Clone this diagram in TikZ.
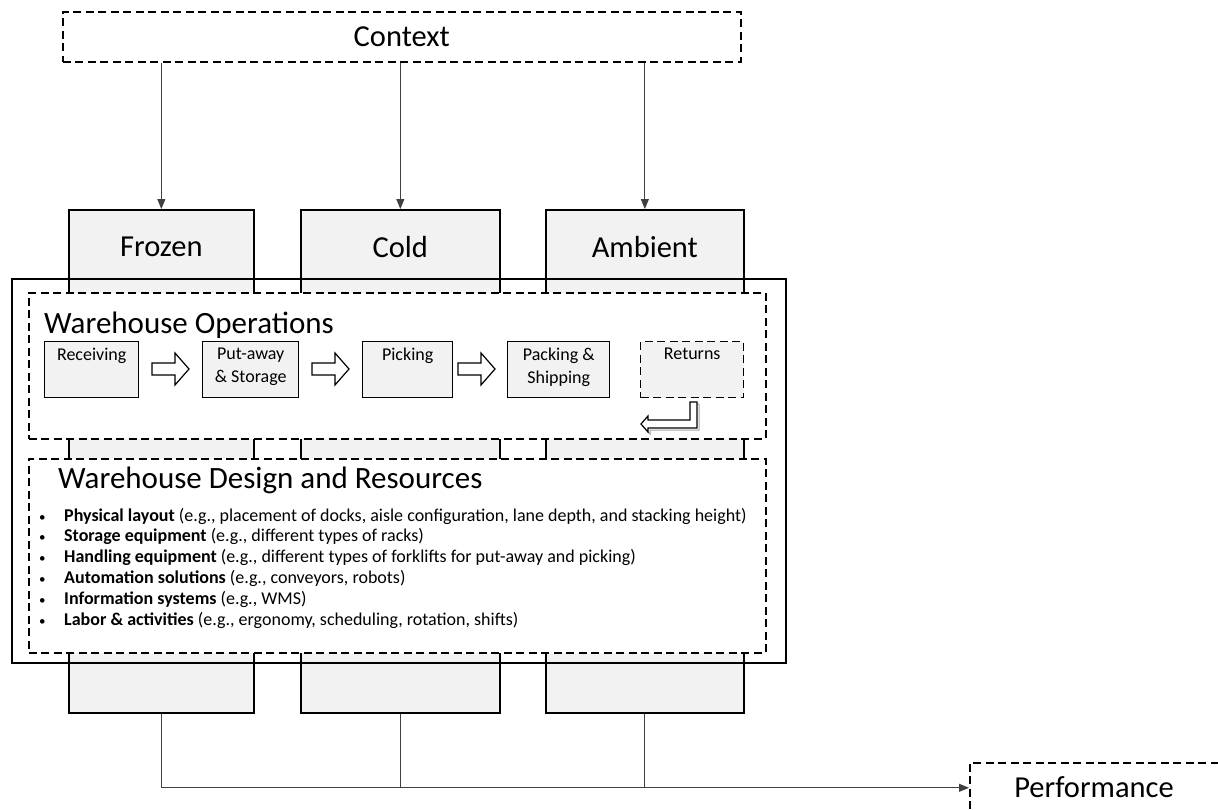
\documentclass[tikz,border=0pt]{standalone}
\usepackage{fontspec}
\setmainfont{Carlito}
\usetikzlibrary{arrows.meta,calc}
\definecolor{boxgray}{HTML}{F2F2F2}
\begin{document}
\begin{tikzpicture}[x=1pt,y=-1pt,
  col/.style={draw=black, fill=boxgray, line width=1.7pt, anchor=north west, inner sep=0pt, minimum height=503pt},
  framebox/.style={draw=black, line width=1.7pt, anchor=north west, inner sep=0pt},
  dashbox/.style={draw=black, fill=white, line width=1.6pt, dash pattern=on 8pt off 4.5pt, anchor=north west, inner sep=0pt},
  opbox/.style={draw=black, fill=boxgray, line width=1.4pt, anchor=north west, inner sep=0pt, minimum height=56pt},
  oplbl/.style={anchor=north, inner sep=0pt, align=center, font=\fontsize{18}{23}\selectfont},
  collbl/.style={inner sep=0pt, font=\fontsize{30.5}{36}\selectfont},
  bigtitle/.style={anchor=west, inner sep=0pt, font=\fontsize{31}{36}\selectfont},
  bl/.style={anchor=base west, inner sep=0pt, font=\fontsize{18}{20}\selectfont},
  blk/.style={draw=black, fill=white, line width=1.2pt, line join=miter},
  conn/.style={draw=black!75, line width=0.9pt},
  tip/.style={-{Triangle[length=10pt,width=8pt]}}
]
\useasboundingbox (0,0) rectangle (1218,809);

% columns
\node[col, minimum width=185pt] (frozen) at (68,209) {};
\node[col, minimum width=199pt] (cold) at (300,209) {};
\node[col, minimum width=198pt] (ambient) at (545,209) {};

% frame and inner dashed boxes
\node[framebox, minimum width=774pt, minimum height=384pt] (whframe) at (11,278) {};
\node[dashbox, minimum width=737pt, minimum height=146pt] (ops) at (28,292) {};
\node[dashbox, minimum width=737pt, minimum height=194pt] (design) at (28,458) {};

% column labels
\node[collbl] (frozenlbl) at ($(frozen.north)+(0,38)$) {Frozen};
\node[collbl] (coldlbl) at ($(cold.north)+(0,38)$) {Cold};
\node[collbl] (ambientlbl) at ($(ambient.north)+(0,38)$) {Ambient};

% context
\node[dashbox, minimum width=678pt, minimum height=50pt, font=\fontsize{30.5}{36}\selectfont] (context) at (62,11) {Context};

% performance
\node[dashbox, minimum width=262pt, minimum height=50pt] (perf) at (969,762) {};
\node[inner sep=0pt, font=\fontsize{30.5}{36}\selectfont] (perflbl) at (1094,787) {Performance};

% top arrows
\draw[conn,tip] (context.south -| frozen.north) -- (frozen.north);
\draw[conn,tip] (context.south -| cold.north) -- (cold.north);
\draw[conn,tip] (context.south -| ambient.north) -- (ambient.north);

% bottom connectors
\draw[conn,tip] (frozen.south) |- (perf.west);
\draw[conn] (cold.south) -- (cold.south |- perf.west);
\draw[conn] (ambient.south) -- (ambient.south |- perf.west);

% operations
\node[bigtitle] (opstitle) at (44,325) {Warehouse Operations};
\node[opbox, minimum width=94pt] (recv) at (44,341) {};
\node[opbox, minimum width=96pt] (put) at (202,341) {};
\node[opbox, minimum width=90pt] (pick) at (362,341) {};
\node[opbox, minimum width=102pt] (pack) at (507,341) {};
\node[opbox, minimum width=103pt, dash pattern=on 8pt off 4.5pt] (ret) at (640,341) {};

\node[oplbl] (recvlbl) at ($(recv.north)+(0,7)$) {Receiving};
\node[oplbl] (putlbl) at ($(put.north)+(0,7)$) {Put-away\\\& Storage};
\node[oplbl] (picklbl) at ($(pick.north)+(0,7)$) {Picking};
\node[oplbl] (packlbl) at ($(pack.north)+(0,7)$) {Packing \&\\Shipping};
\node[oplbl] (retlbl) at ($(ret.north)+(0,7)$) {Returns};

% block arrows
\foreach \x in {152,312,458}{
  \draw[blk] (\x,363) -- ++(23,0) -- ++(0,-10) -- ++(14,16) -- ++(-14,16) -- ++(0,-10) -- ++(-23,0) -- cycle;
}
% return arrow
\draw[draw=black!35, line width=1pt, line join=miter] (692,404) -- (699,404) -- (699,430) -- (650,430) -- (650,434) -- (643,426);
\draw[blk] (690,402) -- (697,402) -- (697,428) -- (648,428) -- (648,432) -- (641,424) -- (648,416) -- (648,420) -- (690,420) -- cycle;

% design
\node[bigtitle] (destitle) at (58,480) {Warehouse Design and Resources};
\foreach \i/\b/\t in {0/Physical layout/{(e.g., placement of docks, aisle configuration, lane depth, and stacking height)},
                      1/Storage equipment/{(e.g., different types of racks)},
                      2/Handling equipment/{(e.g., different types of forklifts for put-away and picking)},
                      3/Automation solutions/{(e.g., conveyors, robots)},
                      4/Information systems/{(e.g., WMS)},
                      5/Labor \& activities/{(e.g., ergonomy, scheduling, rotation, shifts)}}{
  \node[bl, font=\fontsize{13}{15}\selectfont] (bul\i) at (39,{521+20.8*\i}) {\textbullet};
  \node[bl] (item\i) at (64,{521+20.8*\i}) {\textbf{\b} \t};
}
\end{tikzpicture}
\end{document}
